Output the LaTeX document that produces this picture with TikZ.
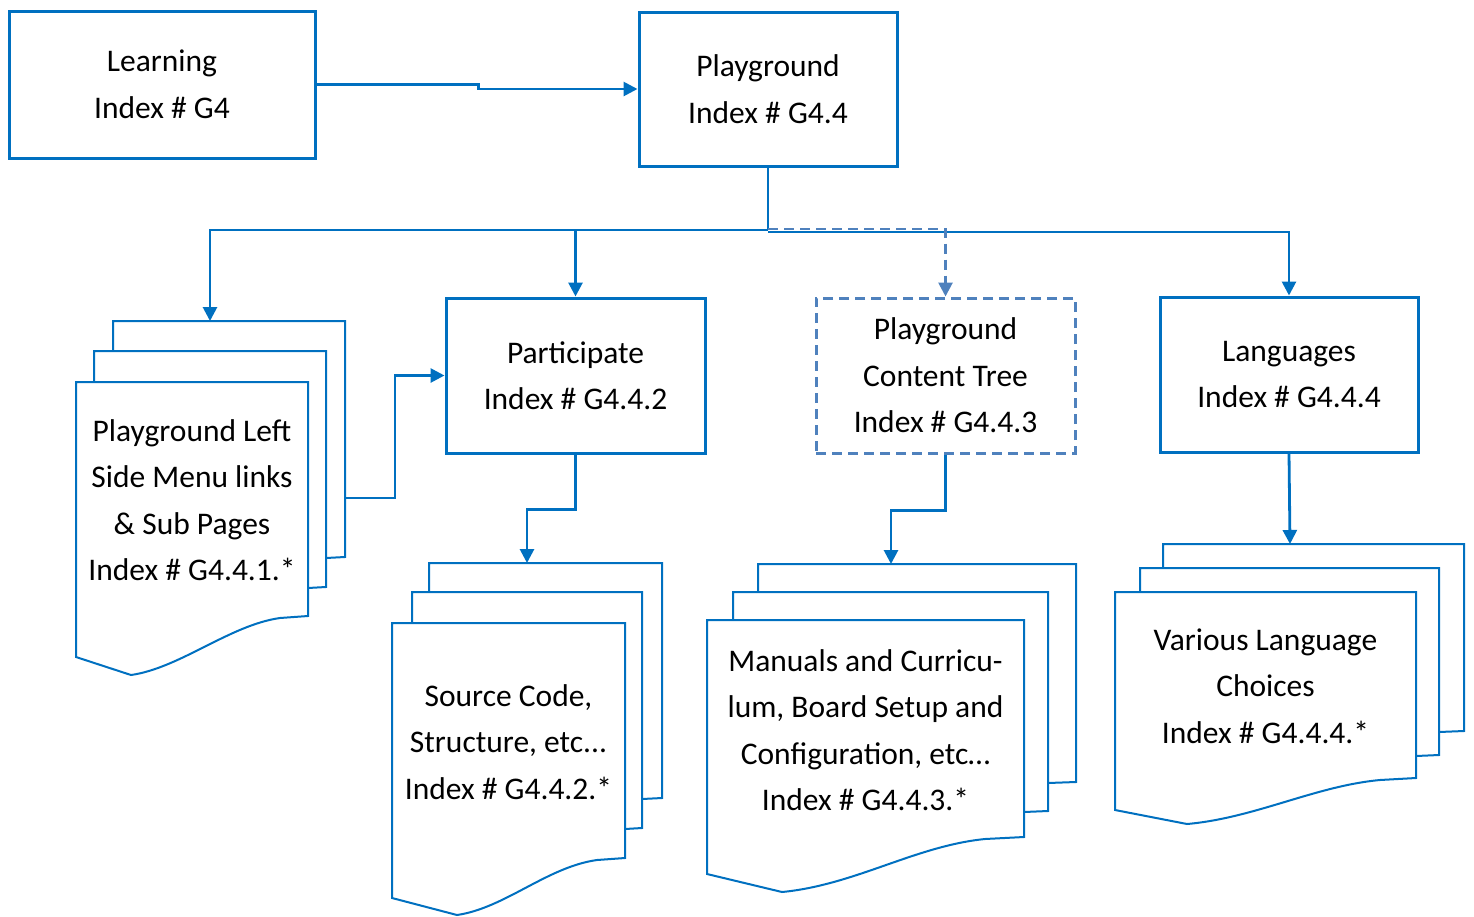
\documentclass[tikz,border=0pt]{standalone}
\usepackage{fontspec}
\setmainfont{Carlito}
\usetikzlibrary{arrows.meta,calc}
\definecolor{mblue}{HTML}{0070C0}
\definecolor{dblue}{HTML}{4F81BD}
\begin{document}
\begin{tikzpicture}[x=1pt,y=-1pt,
  every node/.style={font=\fontsize{31.5}{46.5}\selectfont, align=center, text=black},
  mainbox/.style={draw=mblue, line width=3pt, inner sep=0pt},
  dashbox/.style={draw=dblue, line width=3pt, inner sep=0pt, dash pattern=on 10pt off 6pt},
  page/.style={draw=mblue, line width=2pt, fill=white, line join=miter},
  conn/.style={draw=mblue, line width=2.8pt, -{Triangle[length=14pt,width=14pt]}},
  dconn/.style={draw=dblue, line width=2.8pt, dash pattern=on 10pt off 6pt, -{Triangle[length=14pt,width=14pt]}},
  doctext/.style={inner sep=0pt}
]
\useasboundingbox (0,0) rectangle (1474,916);

% main boxes
\node[mainbox, minimum width=306pt, minimum height=147pt] (learn) at (162,84.5) {Learning\\Index \# G4};
\node[mainbox, minimum width=258pt, minimum height=154pt] (play) at (768,89) {Playground\\Index \# G4.4};
\node[mainbox, minimum width=259pt, minimum height=155pt] (part) at (575.5,375.5) {Participate\\Index \# G4.4.2};
\node[dashbox, minimum width=259pt, minimum height=155pt] (tree) at (945.5,375.5) {Playground\\Content Tree\\Index \# G4.4.3};
\node[mainbox, minimum width=258pt, minimum height=155pt] (lang) at (1289,374.5) {Languages\\Index \# G4.4.4};

% document stack 1
\draw[page] (113,351) -- (113,321) -- (345,321) -- (345,557) -- (326,558);
\draw[page] (94,382) -- (94,351) -- (326,351) -- (326,587) -- (308,588);
\draw[page] (76,382) -- (308,382) -- (308,616) -- (280,618)
  .. controls (230,625) and (180,668) .. (131,675) -- (76,657) -- cycle;
\coordinate (d1top) at (210,321);
\coordinate (d1right) at (345,498);
\node[doctext] (d1) at (192,500) {Playground Left\\Side Menu links\\\& Sub Pages\\Index \# G4.4.1.*};

% document stack 2
\draw[page] (429,592) -- (429,563) -- (662,563) -- (662,798) -- (642,799);
\draw[page] (412,623) -- (412,592) -- (642,592) -- (642,828) -- (625,829);
\draw[page] (392,623) -- (625,623) -- (625,858) -- (597,860)
  .. controls (547,867) and (505,908) .. (457,915) -- (392,898) -- cycle;
\coordinate (d2top) at (527,563);
\node[doctext] (d2) at (508.5,742) {Source Code,\\Structure, etc...\\Index \# G4.4.2.*};

% document stack 3
\draw[page] (758,592) -- (758,564) -- (1076,564) -- (1076,782) -- (1048,783);
\draw[page] (733,620) -- (733,592) -- (1048,592) -- (1048,811) -- (1024,812);
\draw[page] (707,620) -- (1024,620) -- (1024,837) -- (985,839)
  .. controls (915,846) and (855,885) .. (782,892) -- (707,874) -- cycle;
\coordinate (d3top) at (891,564);
\node[doctext] (d3) at (865.5,730) {Manuals and Curricu-\\lum, Board Setup and\\Configuration, etc…\\Index \# G4.4.3.*};

% document stack 4
\draw[page] (1163,568) -- (1163,544) -- (1464,544) -- (1464,731) -- (1439,732);
\draw[page] (1140,592) -- (1140,568) -- (1439,568) -- (1439,755) -- (1416,756);
\draw[page] (1115,592) -- (1416,592) -- (1416,778) -- (1380,780)
  .. controls (1315,786) and (1255,818) .. (1187,824) -- (1115,810) -- cycle;
\coordinate (d4top) at (1290,544);
\node[doctext] (d4) at (1265.5,686) {Various Language\\Choices\\Index \# G4.4.4.*};

% connectors
\coordinate (bus) at (768,230);
\coordinate (busr) at (768,232);
\coordinate (busd) at (768,229);
\draw[conn] (learn.east) -- ++(162,0) |- (play.west);
\draw[draw=mblue, line width=2.8pt] (play.south) -- (bus);
\draw[conn] (bus) -| (d1top);
\draw[conn] (bus) -| (part.north);
\draw[conn] (busr) -| (lang.north);
\draw[dconn] (busd) -| (tree.north);
\draw[conn] (d1right) -- ++(50,0) |- (part.west);
\draw[conn] (part.south) -- ++(0,55) -| (d2top);
\draw[conn] (tree.south) -- ++(0,56) -| (d3top);
\draw[conn] (lang.south) -- (d4top);
\end{tikzpicture}
\end{document}
